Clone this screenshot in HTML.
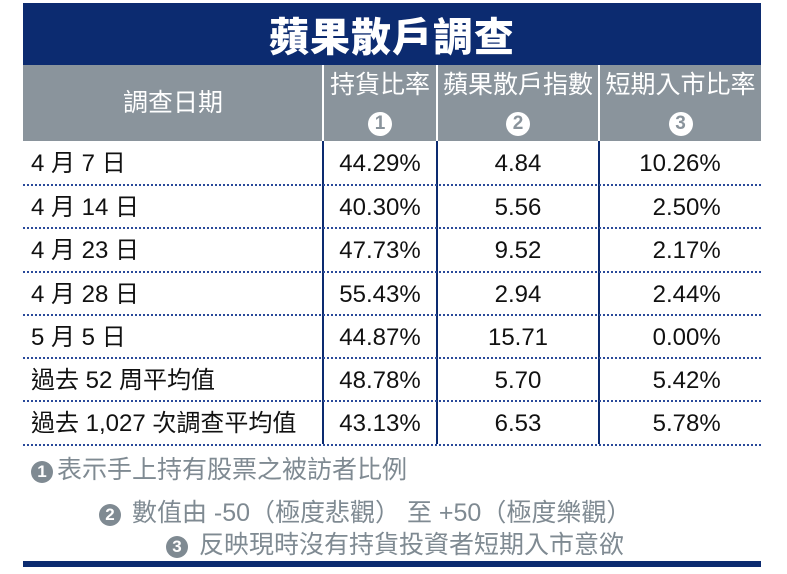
<!DOCTYPE html>
<html><head><meta charset="utf-8"><style>
body{margin:0;width:787px;height:574px;background:#fff;position:relative;overflow:hidden;font-family:"Liberation Sans Narrow","Liberation Sans","Noto Sans CJK TC",sans-serif;}
.a{position:absolute;}
.title{left:23px;top:3px;width:738px;height:62px;background:#0c2b70;color:#fff;font:900 40px "Noto Sans CJK TC",sans-serif;text-align:center;line-height:62px;letter-spacing:1px;}
.hdr{left:23px;top:65px;width:738px;height:76px;background:#8a949c;}
.hc{position:absolute;top:0;height:76px;color:#fff;font-size:25px;text-align:center;}
.sep{position:absolute;top:0;width:2px;height:76px;background:#fff;}
.circ{display:inline-block;width:24px;height:24px;border-radius:50%;background:#fff;color:#8a949c;font:bold 19px "Liberation Sans",sans-serif;line-height:24px;text-align:center;}
.vl{position:absolute;top:141px;width:2px;height:303px;background:#0c2b70;}
.dl{position:absolute;left:23px;width:738px;border-top:2px dotted #2a4a9a;height:0;}
.row{position:absolute;left:23px;width:738px;height:43px;font-size:24px;color:#111;line-height:43px;}
.row span{position:absolute;top:0;}
.c1{left:8px;}
.c2{left:300px;width:114px;text-align:center;}
.c3{left:414px;width:162px;text-align:center;}
.c4{left:576px;width:162px;text-align:center;}
.note{position:absolute;color:#7f8a92;font-size:25px;line-height:32px;white-space:nowrap;}
.nc{display:inline-block;width:22px;height:22px;border-radius:50%;background:#7f8a92;color:#fff;font:bold 17px "Liberation Sans",sans-serif;line-height:22px;text-align:center;vertical-align:1px;margin-right:4px;}
</style></head><body>
<div class="a title">蘋果散戶調查</div>
<div class="a hdr">
<div class="hc" style="left:0;width:300px;line-height:76px;">調查日期</div>
<div class="sep" style="left:299px"></div>
<div class="hc" style="left:301px;width:112px;line-height:36px;padding-top:2px">持貨比率<br><span class="circ">1</span></div>
<div class="sep" style="left:413px"></div>
<div class="hc" style="left:415px;width:160px;line-height:36px;padding-top:2px">蘋果散戶指數<br><span class="circ">2</span></div>
<div class="sep" style="left:575px"></div>
<div class="hc" style="left:577px;width:161px;line-height:36px;padding-top:2px">短期入市比率<br><span class="circ">3</span></div>
</div>
<div class="vl" style="left:322px"></div>
<div class="vl" style="left:436px"></div>
<div class="vl" style="left:598px"></div>
<div class="row" style="top:142px"><span class="c1">4 月 7 日</span><span class="c2">44.29%</span><span class="c3">4.84</span><span class="c4">10.26%</span></div>
<div class="dl" style="top:184px"></div>
<div class="row" style="top:186px"><span class="c1">4 月 14 日</span><span class="c2">40.30%</span><span class="c3">5.56</span><span class="c4">&nbsp;&nbsp;2.50%</span></div>
<div class="dl" style="top:227px"></div>
<div class="row" style="top:229px"><span class="c1">4 月 23 日</span><span class="c2">47.73%</span><span class="c3">9.52</span><span class="c4">&nbsp;&nbsp;2.17%</span></div>
<div class="dl" style="top:271px"></div>
<div class="row" style="top:273px"><span class="c1">4 月 28 日</span><span class="c2">55.43%</span><span class="c3">2.94</span><span class="c4">&nbsp;&nbsp;2.44%</span></div>
<div class="dl" style="top:314px"></div>
<div class="row" style="top:316px"><span class="c1">5 月 5 日</span><span class="c2">44.87%</span><span class="c3">15.71</span><span class="c4">&nbsp;&nbsp;0.00%</span></div>
<div class="dl" style="top:357px"></div>
<div class="row" style="top:359px"><span class="c1">過去 52 周平均值</span><span class="c2">48.78%</span><span class="c3">5.70</span><span class="c4">&nbsp;&nbsp;5.42%</span></div>
<div class="dl" style="top:400px"></div>
<div class="row" style="top:402px"><span class="c1">過去 1,027 次調查平均值</span><span class="c2">43.13%</span><span class="c3">6.53</span><span class="c4">&nbsp;&nbsp;5.78%</span></div>
<div class="dl" style="top:444px"></div>
<div class="note" style="left:31px;top:454px"><span class="nc">1</span>表示手上持有股票之被訪者比例</div>
<div class="note" style="left:99px;top:497px"><span class="nc">2</span> 數值由 -50（極度悲觀） 至 +50（極度樂觀）</div>
<div class="note" style="left:166px;top:529px"><span class="nc">3</span> 反映現時沒有持貨投資者短期入市意欲</div>
<div class="a" style="left:23px;top:561px;width:738px;height:6px;background:#0c2b70"></div>
</body></html>
